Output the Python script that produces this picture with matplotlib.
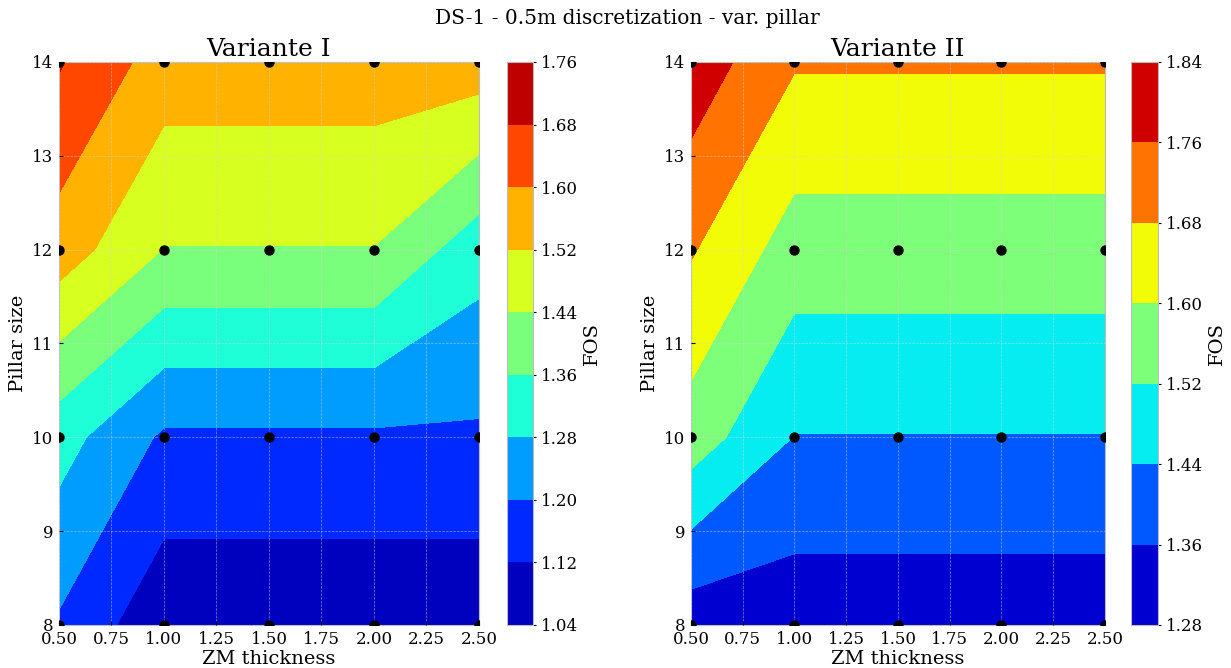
import numpy as np
import matplotlib.pyplot as plt

# grid of the parametric study
ZM_THICKNESS = [0.5, 1.0, 1.5, 2.0, 2.5]
PILLAR_SIZE = [8, 10, 12, 14]

# FOS values, one row per pillar size (8, 10, 12, 14), one column per ZM thickness
FOS_VAR_I = [
    [1.19, 1.0625, 1.0625, 1.0625, 1.0625],
    [1.3125, 1.1875, 1.1875, 1.1875, 1.1875],
    [1.5625, 1.4375, 1.4375, 1.4375, 1.3125],
    [1.6875, 1.5625, 1.5625, 1.5625, 1.5625],
]
FOS_VAR_II = [
    [1.3125, 1.3125, 1.3125, 1.3125, 1.3125],
    [1.5625, 1.4375, 1.4375, 1.4375, 1.4375],
    [1.6875, 1.5625, 1.5625, 1.5625, 1.5625],
    [1.81, 1.6875, 1.6875, 1.6875, 1.6875],
]
LEVELS_I = [1.04, 1.12, 1.20, 1.28, 1.36, 1.44, 1.52, 1.60, 1.68, 1.76]
LEVELS_II = [1.28, 1.36, 1.44, 1.52, 1.60, 1.68, 1.76, 1.84]
TITLES = ['Variante I', 'Variante II']

plt.rcParams['font.family'] = 'DejaVu Serif'
plt.rcParams['xtick.labelsize'] = 12
plt.rcParams['ytick.labelsize'] = 12


def panel(fig, ax_pos, cb_pos, fos, levels, title):
    ax = fig.add_axes(ax_pos)
    cax = fig.add_axes(cb_pos)
    X, Y = np.meshgrid(ZM_THICKNESS, PILLAR_SIZE)
    cs = ax.contourf(X, Y, np.array(fos), levels=levels, cmap='jet')
    ax.scatter(X.ravel(), Y.ravel(), s=42, color='black', zorder=5)

    ax.set_xticks(np.arange(0.5, 2.51, 0.25))
    ax.set_yticks(PILLAR_SIZE[0] + np.arange(7))
    ax.set_xlim(0.5, 2.5)
    ax.set_ylim(8, 14)
    ax.set_axisbelow(False)
    ax.grid(True, color='#d8d8d8', linestyle='--', linewidth=0.5, alpha=0.6)
    for s in ax.spines.values():
        s.set_color('#bbbbbb')
    ax.tick_params(direction='in', length=3, pad=4)
    ax.set_xlabel('ZM thickness', fontsize=14, labelpad=2)
    ax.set_ylabel('Pillar size', fontsize=14)
    ax.set_title(title, fontsize=18, pad=4)

    cb = fig.colorbar(cs, cax=cax)
    cb.set_ticks(levels)
    cb.set_ticklabels(['%.2f' % l for l in levels])
    cb.outline.set_edgecolor('#bbbbbb')
    cb.ax.tick_params(length=2, labelsize=12)
    cb.set_label('FOS', fontsize=14)
    return ax


fig = plt.figure(figsize=(12.31, 6.68), dpi=100)
panel(fig, [0.0479, 0.0644, 0.3412, 0.8428], [0.4119, 0.0644, 0.0211, 0.8428],
      FOS_VAR_I, LEVELS_I, TITLES[0])
panel(fig, [0.5613, 0.0644, 0.3363, 0.8428], [0.9188, 0.0644, 0.0219, 0.8428],
      FOS_VAR_II, LEVELS_II, TITLES[1])
fig.suptitle('DS-1 - 0.5m discretization - var. pillar', fontsize=14.5, x=0.51, y=0.987)

fig.savefig('out.png', dpi=100)
